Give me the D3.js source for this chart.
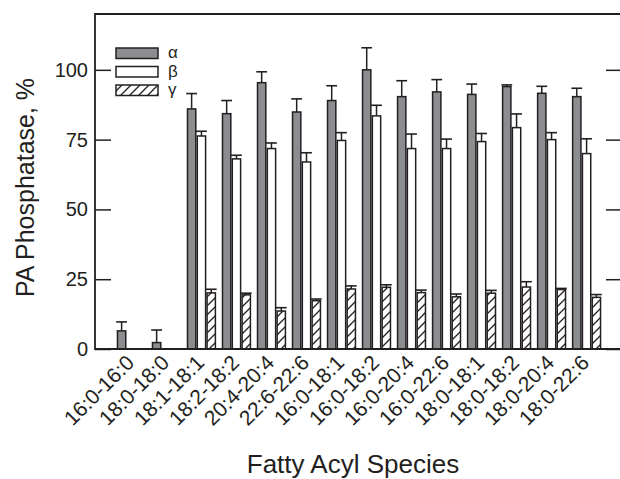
<!DOCTYPE html>
<html>
<head>
<meta charset="utf-8">
<script src="https://cdn.jsdelivr.net/npm/d3@7"></script>
<style>
  html, body { margin: 0; padding: 0; background: #fff; }
  svg { display: block; }
  text { font-family: "Liberation Sans", Arial, sans-serif; fill: #231f20; }
</style>
</head>
<body>
<svg id="chart" width="620" height="479"></svg>
<script>
const categories = ["16:0-16:0","18:0-18:0","18:1-18:1","18:2-18:2","20:4-20:4","22:6-22:6",
  "16:0-18:1","16:0-18:2","16:0-20:4","16:0-22:6","18:0-18:1","18:0-18:2","18:0-20:4","18:0-22:6"];
const seriesNames = ["α","β","γ"];
const alphaValues = [6.5, 2.3, 86.0, 84.3, 95.4, 84.9, 89.0, 100.0, 90.4, 92.1, 91.2, 94.0, 91.6, 90.4];
const alphaErrors = [3.2, 4.5, 5.5, 4.7, 3.9, 4.7, 5.3, 7.9, 5.7, 4.4, 3.7, 0.6, 2.5, 3.0];
const betaValues  = [null, null, 76.3, 68.1, 71.8, 67.0, 74.7, 83.5, 71.8, 71.8, 74.3, 79.3, 75.0, 70.0];
const betaErrors  = [null, null, 1.7, 1.3, 2.0, 3.3, 2.8, 3.8, 5.2, 3.4, 2.9, 4.9, 2.5, 5.3];
const gammaValues = [null, null, 20.1, 19.4, 13.6, 17.3, 21.5, 22.1, 20.2, 18.7, 20.0, 22.2, 21.3, 18.5];
const gammaErrors = [null, null, 1.3, 0.6, 1.2, 0.6, 1.1, 0.9, 0.9, 1.0, 1.0, 1.9, 0.4, 1.0];
const yTicks = [0, 25, 50, 75, 100];

const ink = "#231f20";
const svg = d3.select("#chart");
const L = 95, R = 621, T = 14, B = 349;

const x = d3.scaleBand().domain(categories).range([L, 623]).paddingInner(0.16).paddingOuter(0.62);
const xs = d3.scaleBand().domain(seriesNames).range([0, x.bandwidth()]).padding(0);
const y = d3.scaleLinear().domain([0, 120]).range([B, T]);

// hatch pattern
const defs = svg.append("defs");
const pat = defs.append("pattern").attr("id", "hatch").attr("patternUnits", "userSpaceOnUse")
  .attr("width", 9).attr("height", 9);
pat.append("rect").attr("width", 9).attr("height", 9).attr("fill", "#fff");
pat.append("path").attr("d", "M-1,1 L1,-1 M0,9 L9,0 M8,10 L10,8")
  .attr("stroke", ink).attr("stroke-width", 1.3);

const fills = { "α": "#8b8d90", "β": "#ffffff", "γ": "url(#hatch)" };

const rows = [];
categories.forEach((c, i) => {
  rows.push({ cat: c, s: "α", v: alphaValues[i], e: alphaErrors[i] });
  rows.push({ cat: c, s: "β", v: betaValues[i], e: betaErrors[i] });
  rows.push({ cat: c, s: "γ", v: gammaValues[i], e: gammaErrors[i] });
});
const data = rows.filter(d => d.v != null);

const g = svg.append("g");
// error bars (behind bars)
const eb = g.selectAll(".err").data(data).enter().append("g");
eb.append("line")
  .attr("x1", d => x(d.cat) + xs(d.s) + xs.bandwidth() / 2)
  .attr("x2", d => x(d.cat) + xs(d.s) + xs.bandwidth() / 2)
  .attr("y1", d => y(d.v)).attr("y2", d => y(d.v + d.e))
  .attr("stroke", ink).attr("stroke-width", 1.5);
eb.append("line")
  .attr("x1", d => x(d.cat) + xs(d.s) - 0.5)
  .attr("x2", d => x(d.cat) + xs(d.s) + xs.bandwidth() + 0.5)
  .attr("y1", d => y(d.v + d.e)).attr("y2", d => y(d.v + d.e))
  .attr("stroke", ink).attr("stroke-width", 1.6);

g.selectAll(".bar").data(data).enter().append("rect")
  .attr("x", d => x(d.cat) + xs(d.s) + 0.75)
  .attr("width", xs.bandwidth() - 1.5)
  .attr("y", d => y(d.v))
  .attr("height", d => y(0) - y(d.v))
  .attr("fill", d => fills[d.s])
  .attr("stroke", ink).attr("stroke-width", 1.5);

// frame
svg.append("path")
  .attr("d", `M${R},${T} L${L},${T} L${L},${B} L${R},${B} Z`)
  .attr("fill", "none").attr("stroke", ink).attr("stroke-width", 1.8);

// left axis (inward ticks)
const yAxisL = d3.axisLeft(y).tickValues(yTicks).tickSize(-16).tickPadding(7);
const gl = svg.append("g").attr("transform", `translate(${L},0)`).call(yAxisL);
gl.select(".domain").remove();
gl.selectAll(".tick line").attr("stroke", ink).attr("stroke-width", 1.5);
gl.selectAll(".tick text").attr("font-size", 20).attr("fill", ink)
  .attr("font-family", "Liberation Sans, Arial, sans-serif");

// right axis (inward ticks)
const yAxisR = d3.axisRight(y).tickValues(yTicks).tickSize(-15).tickFormat("");
const gr = svg.append("g").attr("transform", `translate(${R},0)`).call(yAxisR);
gr.select(".domain").remove();
gr.selectAll(".tick line").attr("stroke", ink).attr("stroke-width", 1.5);

// x labels
svg.append("g").selectAll("text").data(categories).enter().append("text")
  .attr("transform", d => `translate(${x(d) + x.bandwidth() / 2 + 4},${B + 15}) rotate(-45)`)
  .attr("text-anchor", "end")
  .attr("font-size", 21)
  .text(d => d);

// axis titles
svg.append("text").attr("x", 353).attr("y", 473).attr("text-anchor", "middle")
  .attr("font-size", 26).text("Fatty Acyl Species");
svg.append("text").attr("transform", `translate(34,${(T + B) / 2 + 6}) rotate(-90)`)
  .attr("text-anchor", "middle").attr("font-size", 25).text("PA Phosphatase, %");

// legend
const leg = svg.append("g");
seriesNames.forEach((s, i) => {
  const yy = 48 + i * 18.5;
  leg.append("rect").attr("x", 116).attr("y", yy).attr("width", 42).attr("height", 10.5)
    .attr("fill", fills[s]).attr("stroke", ink).attr("stroke-width", 1.5);
  leg.append("text").attr("x", 168).attr("y", yy + 10).attr("font-size", 17)
    .attr("font-family", "Liberation Serif, serif").text(s);
});
</script>
</body>
</html>
